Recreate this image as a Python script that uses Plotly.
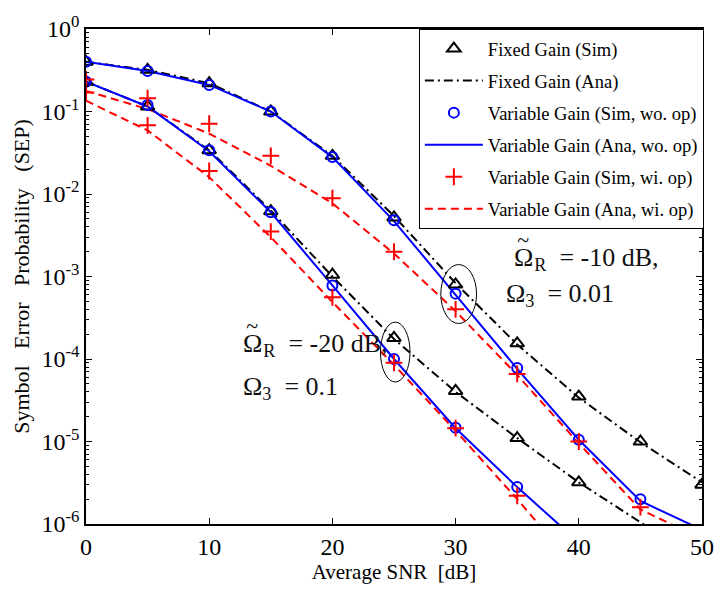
import plotly.graph_objects as go

# SNR grid (dB)
snr = [0, 5, 10, 15, 20, 25, 30, 35, 40, 45, 50]

# ---- Upper group: Omega_R = -10 dB, Omega_3 = 0.01 ----
fixed_sim_hi = [0.40, 0.32, 0.22, 0.10, 0.029, 0.0052, 8.0e-4, 1.55e-4, 3.5e-5, 1.0e-5, 3.0e-6]
fixed_ana_hi = [0.40, 0.32, 0.22, 0.10, 0.029, 0.0054, 8.3e-4, 1.5e-4, 3.4e-5, 9.8e-6, 3.2e-6]
var_sim_wo_hi = [0.40, 0.31, 0.21, 0.10, 0.028, 0.0048, 6.2e-4, 7.8e-5, 1.05e-5, 2.0e-6]
var_ana_wo_hi = [0.40, 0.31, 0.21, 0.10, 0.028, 0.0047, 6.0e-4, 7.6e-5, 1.05e-5, 1.9e-6, 8.5e-7]
var_sim_wi_hi = [0.245, 0.145, 0.071, 0.029, 0.0089, 0.0020, 4.0e-4, 6.6e-5, 1.0e-5, 1.6e-6]
var_ana_wi_hi = [0.178, 0.107, 0.054, 0.022, 0.0077, 0.0019, 3.8e-4, 6.4e-5, 9.5e-6, 1.5e-6, 6.6e-7]

# ---- Lower group: Omega_R = -20 dB, Omega_3 = 0.1 ----
fixed_sim_lo = [0.23, 0.115, 0.034, 0.0062, 0.00105, 1.8e-4, 4.1e-5, 1.1e-5, 3.2e-6]
fixed_ana_lo = [0.23, 0.115, 0.034, 0.0063, 0.0010, 1.75e-4, 4.0e-5, 1.1e-5, 3.2e-6, 1.05e-6, 3.7e-7]
var_sim_wo_lo = [0.23, 0.12, 0.034, 0.006, 7.8e-4, 1.0e-4, 1.47e-5, 2.8e-6]
var_ana_wo_lo = [0.23, 0.115, 0.033, 0.006, 7.8e-4, 1.0e-4, 1.45e-5, 2.8e-6, 6.0e-7]
var_sim_wi_lo = [0.17, 0.068, 0.019, 0.0035, 5.6e-4, 9.0e-5, 1.45e-5, 2.2e-6]
var_ana_wi_lo = [0.135, 0.059, 0.016, 0.0030, 4.9e-4, 8.5e-5, 1.35e-5, 2.0e-6, 2.7e-7]

legend_names = [
    "Fixed Gain (Sim)",
    "Fixed Gain (Ana)",
    "Variable Gain (Sim, wo. op)",
    "Variable Gain (Ana, wo. op)",
    "Variable Gain (Sim, wi. op)",
    "Variable Gain (Ana, wi. op)",
]

ytick_vals = [1e-6, 1e-5, 1e-4, 1e-3, 1e-2, 1e-1, 1]
ytick_text = ["10<sup>-6</sup>", "10<sup>-5</sup>", "10<sup>-4</sup>", "10<sup>-3</sup>",
              "10<sup>-2</sup>", "10<sup>-1</sup>", "10<sup>0</sup>"]
xtick_vals = [0, 10, 20, 30, 40, 50]

SERIF = "Liberation Serif, Times New Roman, serif"
BLUE = "#0000FF"
RED = "#FF0000"
BLACK = "#000000"

fig = go.Figure()

def line_trace(y, name, color, dash, rank, show):
    fig.add_trace(go.Scatter(
        x=snr[:len(y)], y=y, mode="lines", name=name,
        line=dict(color=color, width=2, dash=dash),
        legendgroup=name, legendrank=rank, showlegend=show))

def marker_trace(y, name, color, symbol, size, rank, show):
    fig.add_trace(go.Scatter(
        x=snr[:len(y)], y=y, mode="markers", name=name,
        marker=dict(symbol=symbol, size=size, color=color,
                    line=dict(color=color, width=2)),
        legendgroup=name, legendrank=rank, showlegend=show))

DASHDOT = "9px,4px,2px,4px"
DASH = "8px,5px"

# analytic lines first (drawn beneath markers)
line_trace(fixed_ana_hi, legend_names[1], BLACK, DASHDOT, 2, True)
line_trace(fixed_ana_lo, legend_names[1], BLACK, DASHDOT, 2, False)
line_trace(var_ana_wi_hi, legend_names[5], RED, DASH, 6, True)
line_trace(var_ana_wi_lo, legend_names[5], RED, DASH, 6, False)
line_trace(var_ana_wo_hi, legend_names[3], BLUE, "solid", 4, True)
line_trace(var_ana_wo_lo, legend_names[3], BLUE, "solid", 4, False)

# simulation markers
marker_trace(fixed_sim_hi, legend_names[0], BLACK, "triangle-up-open", 12, 1, True)
marker_trace(fixed_sim_lo, legend_names[0], BLACK, "triangle-up-open", 12, 1, False)
marker_trace(var_sim_wo_hi, legend_names[2], BLUE, "circle-open", 10, 3, True)
marker_trace(var_sim_wo_lo, legend_names[2], BLUE, "circle-open", 10, 3, False)
marker_trace(var_sim_wi_hi, legend_names[4], RED, "cross-thin", 12, 5, True)
marker_trace(var_sim_wi_lo, legend_names[4], RED, "cross-thin", 12, 5, False)

# ellipses around selected points, sized relative to the circled data point
cx_hi, cy_hi = snr[6], var_sim_wo_hi[6]
fig.add_shape(type="circle", xref="x", yref="y",
              x0=cx_hi - 1.2, x1=cx_hi + 1.7, y0=cy_hi / 2.3, y1=cy_hi * 2.25,
              line=dict(color=BLACK, width=1))
cx_lo, cy_lo = snr[5], var_sim_wo_lo[5]
fig.add_shape(type="circle", xref="x", yref="y",
              x0=cx_lo - 1.1, x1=cx_lo + 1.3, y0=cy_lo / 1.9, y1=cy_lo * 2.8,
              line=dict(color=BLACK, width=1))

ann_font = dict(family=SERIF, size=26, color="#111111")
# Omega with a tilde raised above it (tilde pulled back over the Omega)
OMEGA_T = ("<span style='letter-spacing:-16px'>Ω</span>"
           "<sup><sup><span style='font-size:22px;letter-spacing:5px'>~</span></sup></sup>")
def add_text(x, y, text, font=ann_font, xanchor="left"):
    fig.add_annotation(x=x, y=y, xref="paper", yref="paper", xanchor=xanchor, yanchor="middle",
                       text=text, showarrow=False, font=font)

add_text(0.692, 0.552, OMEGA_T + "<sub>R</sub>  = -10 dB,")
add_text(0.678, 0.462, "Ω<sub>3</sub>  = 0.01")
add_text(0.252, 0.378, OMEGA_T + "<sub>R</sub>  = -20 dB,")
add_text(0.252, 0.274, "Ω<sub>3</sub>  = 0.1")

axis_common = dict(showline=True, linecolor=BLACK, linewidth=1.5, mirror="allticks",
                   ticks="inside", ticklen=6, tickcolor=BLACK, showgrid=False, zeroline=False,
                   tickfont=dict(family=SERIF, size=24, color=BLACK))

fig.update_xaxes(range=[0, 50], tickvals=xtick_vals,
                 title=dict(text="Average SNR  [dB]", font=dict(family=SERIF, size=21, color=BLACK), standoff=4),
                 **axis_common)
fig.update_yaxes(type="log", range=[-6, 0], tickvals=ytick_vals, ticktext=ytick_text,
                 minor=dict(ticks="inside", ticklen=3, tickcolor=BLACK, dtick="D1", showgrid=False),
                 title=dict(text="Symbol   Error   Probability   (SEP)", font=dict(family=SERIF, size=22, color=BLACK), standoff=6),
                 **axis_common)

fig.update_layout(
    width=726, height=592,
    margin=dict(l=86, r=14, t=24, b=68),
    plot_bgcolor="white", paper_bgcolor="white",
    legend=dict(x=1.003, y=1.0, xanchor="right", yanchor="top", bgcolor="white",
                bordercolor=BLACK, borderwidth=1, traceorder="grouped", tracegroupgap=5,
                itemwidth=58, font=dict(family=SERIF, size=18.5, color=BLACK)),
)

fig.write_html("out.html")
